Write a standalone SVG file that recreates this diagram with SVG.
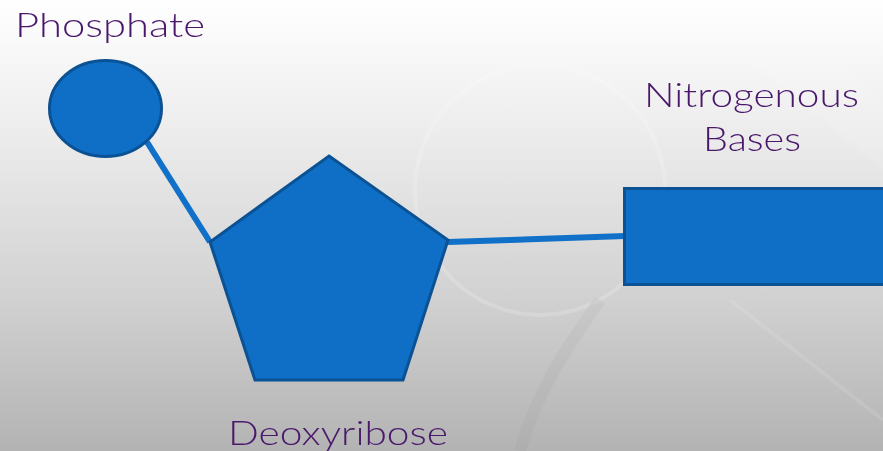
<svg xmlns="http://www.w3.org/2000/svg" width="883" height="451" viewBox="0 0 883 451">
<defs>
<linearGradient id="bg" x1="0" y1="0" x2="0" y2="1">
<stop offset="0" stop-color="#ffffff"/>
<stop offset="0.3" stop-color="#ececec"/>
<stop offset="0.65" stop-color="#d2d2d2"/>
<stop offset="1" stop-color="#b3b3b3"/>
</linearGradient>
</defs>
<style>
.shape{fill:#0f6fc6;stroke:#0b5294;stroke-width:3}
.conn{stroke:#1170c8;stroke-width:6;fill:none}
.lbl{font-family:"Lato","Liberation Sans",sans-serif;font-weight:300;font-size:33px;fill:#4a186b}
</style>
<rect x="0" y="0" width="883" height="451" fill="url(#bg)"/>
<g id="background-art" opacity="0.18">
<circle cx="540" cy="190" r="125" fill="none" stroke="#ffffff" stroke-width="4"/>
<path d="M760 0 L883 100 L883 170 L700 20 Z" fill="#ffffff" opacity="0.6"/>
<path d="M520 451 C540 380 580 330 600 300" fill="none" stroke="#8a8a8a" stroke-width="12" opacity="0.5"/>
<path d="M730 300 L883 420" fill="none" stroke="#ffffff" stroke-width="4" opacity="0.6"/>
</g>
<g id="connectors">
<line class="conn" x1="147" y1="142" x2="210" y2="242"/>
<line class="conn" x1="448" y1="242" x2="625" y2="236"/>
</g>
<g id="phosphate">
<ellipse class="shape" cx="105.5" cy="108.5" rx="56" ry="48"/>
<text class="lbl" x="15" y="37" textLength="190" lengthAdjust="spacingAndGlyphs">Phosphate</text>
</g>
<g id="deoxyribose">
<polygon class="shape" points="329,156 448,240 403,380 255,380 210,242"/>
<text class="lbl" x="228" y="445" textLength="220" lengthAdjust="spacingAndGlyphs">Deoxyribose</text>
</g>
<g id="nitrogenous-bases">
<rect class="shape" x="624.5" y="188.5" width="270" height="96"/>
<text class="lbl" x="644" y="107" textLength="215" lengthAdjust="spacingAndGlyphs">Nitrogenous</text>
<text class="lbl" x="703" y="151" textLength="98" lengthAdjust="spacingAndGlyphs">Bases</text>
</g>
</svg>
